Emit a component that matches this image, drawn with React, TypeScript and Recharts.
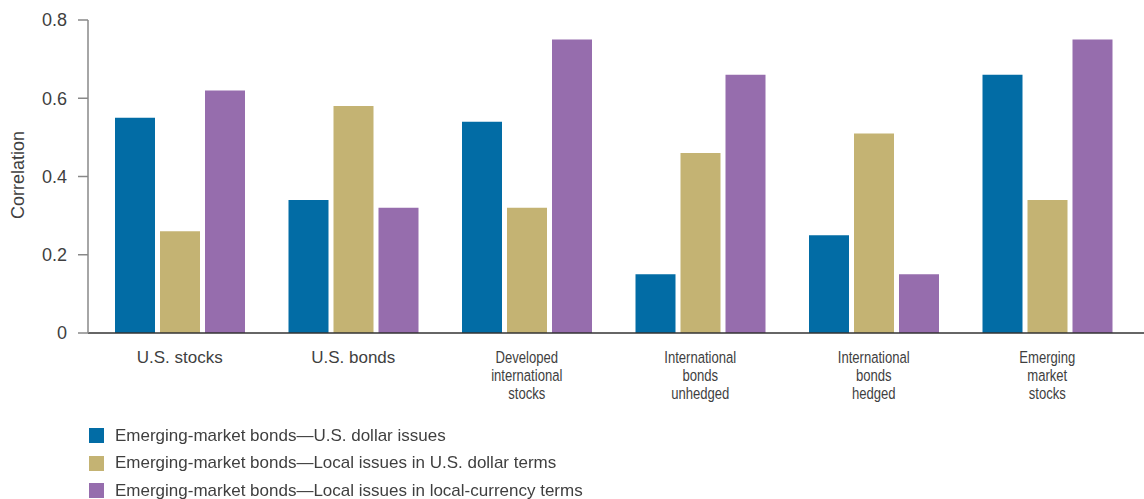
import React from 'react';
import { BarChart, Bar, XAxis, YAxis, Legend } from 'recharts';

const categories = [
  'U.S. stocks',
  'U.S. bonds',
  'Developed\ninternational\nstocks',
  'International\nbonds\nunhedged',
  'International\nbonds\nhedged',
  'Emerging\nmarket\nstocks',
];

const dollarIssues = [0.55, 0.34, 0.54, 0.15, 0.25, 0.66];
const localInUsd = [0.26, 0.58, 0.32, 0.46, 0.51, 0.34];
const localInLocal = [0.62, 0.32, 0.75, 0.66, 0.15, 0.75];

const yTicks = [0, 0.2, 0.4, 0.6, 0.8];

const seriesNames = [
  'Emerging-market bonds\u2014U.S. dollar issues',
  'Emerging-market bonds\u2014Local issues in U.S. dollar terms',
  'Emerging-market bonds\u2014Local issues in local-currency terms',
];
const seriesColors = ['#026ca5', '#c4b373', '#966dad'];

const data = categories.map((category, i) => ({
  category,
  usd: dollarIssues[i],
  localUsd: localInUsd[i],
  localLocal: localInLocal[i],
}));

const FONT = '"Liberation Sans", Arial, sans-serif';
const TEXT = '#3f3f3f';

// multi-line labels are set narrower in the original
const CategoryTick = (props: any) => {
  const { x, y, payload } = props;
  const lines = String(payload.value).split('\n');
  const squeeze = lines.length > 1 ? 0.77 : 1;
  return (
    <g transform={`translate(${x},${y})`}>
      <text
        textAnchor="middle"
        fontFamily={FONT}
        fontSize={17}
        fill={TEXT}
        transform={`scale(${squeeze},1)`}
      >
        {lines.map((line, i) => (
          <tspan key={i} x={0} y={22 + i * 18}>
            {line}
          </tspan>
        ))}
      </text>
    </g>
  );
};

const LegendContent = () => (
  <div style={{ fontFamily: FONT, fontSize: 17, color: TEXT }}>
    {seriesNames.map((name, i) => (
      <div key={name} style={{ height: 27.5, display: 'flex', alignItems: 'center', whiteSpace: 'nowrap' }}>
        <span style={{ width: 15, height: 15, background: seriesColors[i], marginRight: 11, display: 'inline-block' }} />
        <span>{name}</span>
      </div>
    ))}
  </div>
);

export default function App() {
  return (
    <div style={{ position: 'fixed', left: 0, top: 0, width: 1144, height: 499, background: '#fff' }}>
      <BarChart
        width={1144}
        height={499}
        data={data}
        margin={{ top: 20, right: 0, bottom: 0, left: 0 }}
        barSize={40}
        barGap={5}
      >
        <XAxis
          dataKey="category"
          interval={0}
          tickLine={false}
          axisLine={{ stroke: '#333', strokeWidth: 1.5 }}
          padding={{ left: 5, right: 10 }}
          tick={<CategoryTick />}
          height={166}
        />
        <YAxis
          width={88}
          domain={[0, 0.8]}
          ticks={yTicks}
          tickFormatter={(v: number) => (v === 0 ? '0' : String(v))}
          tickSize={10}
          tickMargin={11}
          tickLine={{ stroke: '#888', strokeWidth: 1.5 }}
          axisLine={{ stroke: '#888', strokeWidth: 1.5 }}
          tick={{ fontFamily: FONT, fontSize: 18, fill: TEXT }}
          label={() => (
            <text
              transform="translate(24,175) rotate(-90)"
              textAnchor="middle"
              fontFamily={FONT}
              fontSize={18}
              fill={TEXT}
            >
              Correlation
            </text>
          )}
        />
        <Legend
          layout="vertical"
          align="center"
          verticalAlign="middle"
          wrapperStyle={{ left: 89, top: 422, width: 620 }}
          content={<LegendContent />}
        />
        <Bar dataKey="usd" name={seriesNames[0]} fill={seriesColors[0]} isAnimationActive={false} />
        <Bar dataKey="localUsd" name={seriesNames[1]} fill={seriesColors[1]} isAnimationActive={false} />
        <Bar dataKey="localLocal" name={seriesNames[2]} fill={seriesColors[2]} isAnimationActive={false} />
      </BarChart>
    </div>
  );
}
